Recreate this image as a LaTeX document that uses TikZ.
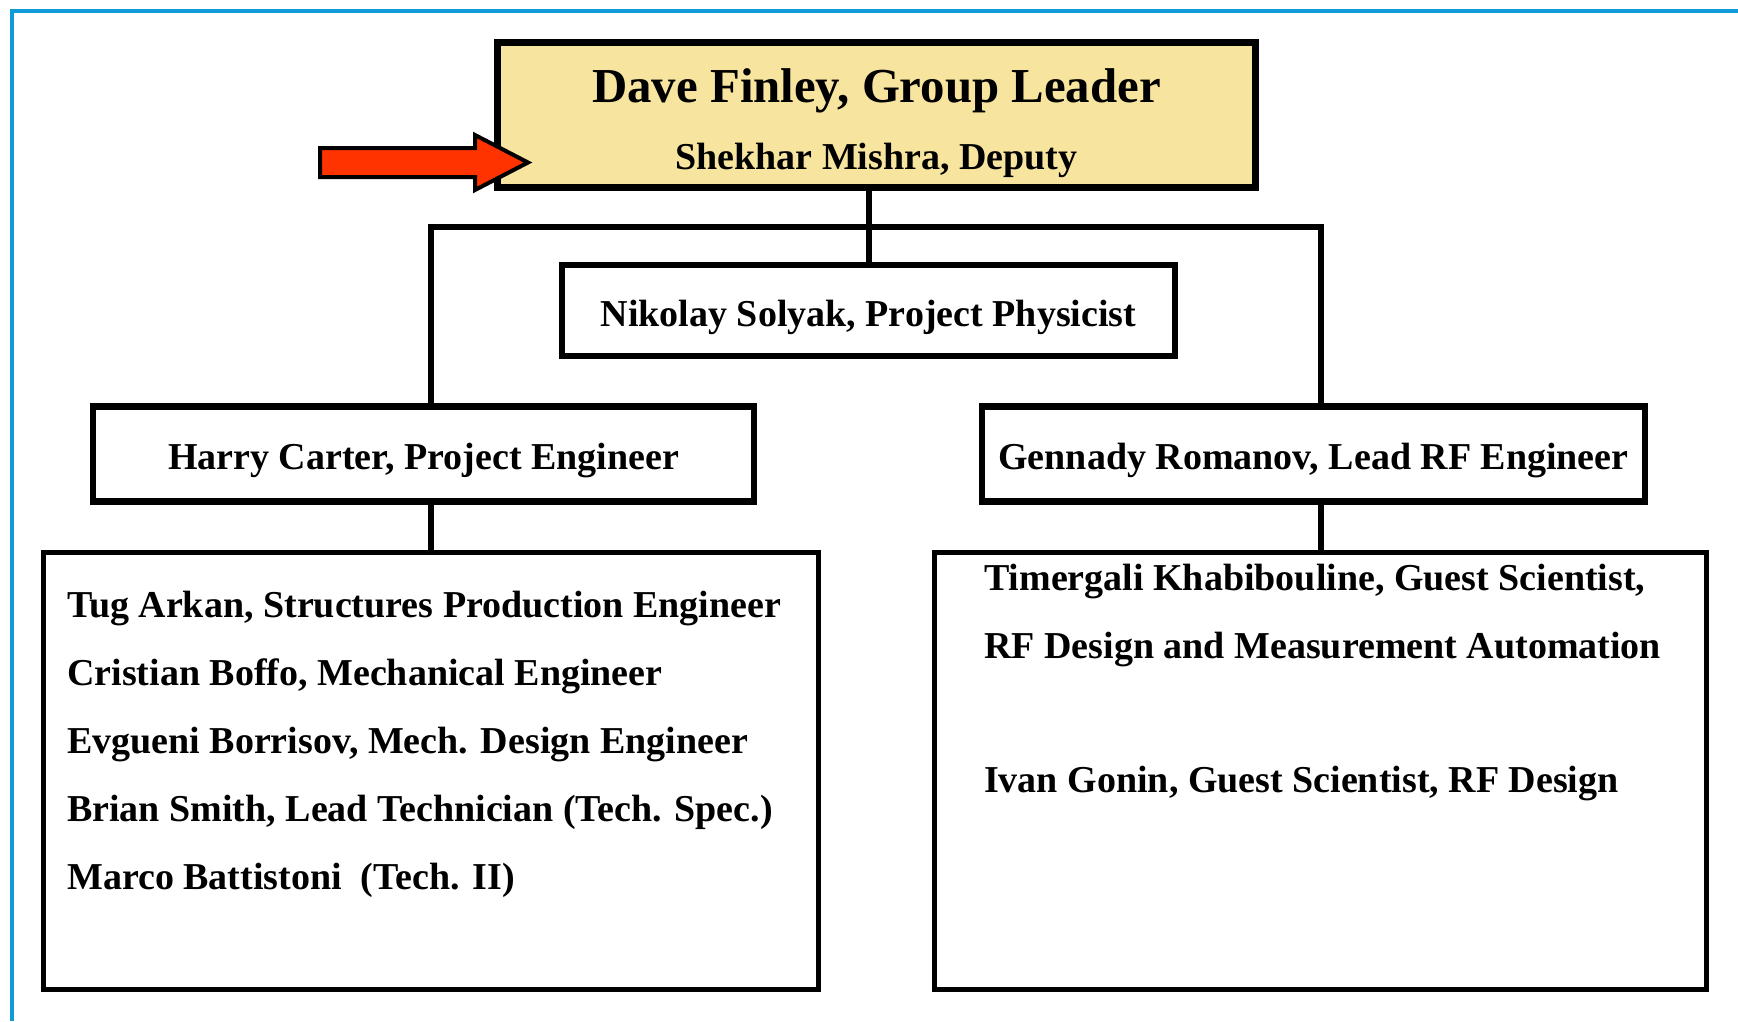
\documentclass[tikz,border=0pt]{standalone}
\usepackage{fontspec}
\setmainfont{Liberation Serif}
\usepackage{tikz}
\usetikzlibrary{positioning, calc}
\usepackage{xcolor}
\definecolor{leaderyellow}{RGB}{247,228,158}
\definecolor{pointerred}{RGB}{255,51,0}
\definecolor{frameblue}{RGB}{16,154,214}
\tikzstyle{leader} = [rectangle, minimum width=758pt, minimum height=145pt, inner sep=0pt, align=center, draw=black, line width=7pt, fill=leaderyellow, font=\bfseries\fontsize{38}{67}\selectfont]
\tikzstyle{post} = [rectangle, minimum height=95pt, inner sep=0pt, text height=34pt, text depth=3pt, text centered, draw=black, line width=6.5pt, font=\bfseries\fontsize{38}{45}\selectfont]
\tikzstyle{team} = [rectangle, minimum width=775pt, minimum height=437pt, draw=black, line width=5pt]
\tikzstyle{names} = [inner sep=0pt, align=left, font=\bfseries\fontsize{38}{68}\selectfont]
\tikzstyle{link} = [line width=6pt]
\tikzstyle{pointer} = [fill=pointerred, draw=black, line width=4pt, line join=miter]

\begin{document}
\begin{tikzpicture}[x=1pt, y=-1pt]
        \useasboundingbox (0,0) rectangle (1738,1021);
        \draw [frameblue, line width=3.5pt] (1738,11) -- (12,11) -- (12,1021);

        \node (boss) [leader] at (876.5,115) {{\fontsize{48.8}{67}\selectfont\rule{0pt}{50pt}Dave Finley, Group Leader}\\Shekhar Mishra, Deputy};
        \node (physicist) [post, minimum width=613pt, minimum height=91pt] at (868.5,310.5) {Nikolay Solyak, Project Physicist};
        \node (engineer) [post, minimum width=661pt] at (423.5,454) {Harry Carter, Project Engineer};
        \node (rflead) [post, minimum width=663pt] at (1313.5,454) {Gennady Romanov, Lead RF Engineer};
        \node (mechteam) [team] at (431,771) {};
        \node (rfteam) [team, minimum width=772pt] at (1320.5,771) {};
        \node (mechnames) [names, below right=41pt and 26pt of mechteam.north west] {Tug Arkan, Structures Production Engineer\\Cristian Boffo, Mechanical Engineer\\Evgueni Borrisov, Mech. Design Engineer\\Brian Smith, Lead Technician (Tech. Spec.)\\Marco Battistoni\ \ (Tech. II)};
        \node (rfnames) [names, below right=14pt and 52pt of rfteam.north west] {Timergali Khabibouline, Guest Scientist,\\RF Design and Measurement Automation\\[66pt]Ivan Gonin, Guest Scientist, RF Design};
        \coordinate (bus) at (868,227);

        % tree lines
        \draw [link] (physicist.north |- boss.south) -- (physicist.north);
        \draw [link] (mechteam.north |- engineer.north) -- (mechteam.north |- bus) -- (rfteam.north |- bus) -- (rfteam.north |- rflead.north);
        \draw [link] (mechteam.north |- engineer.south) -- (mechteam.north);
        \draw [link] (rfteam.north |- rflead.south) -- (rfteam.north);

        % red pointer at the leader box
        \filldraw [pointer] (320,148) -- (475,148) -- (475,135) -- (528,162.5) -- (475,190) -- (475,177) -- (320,177) -- cycle;
    \end{tikzpicture}
\end{document}
